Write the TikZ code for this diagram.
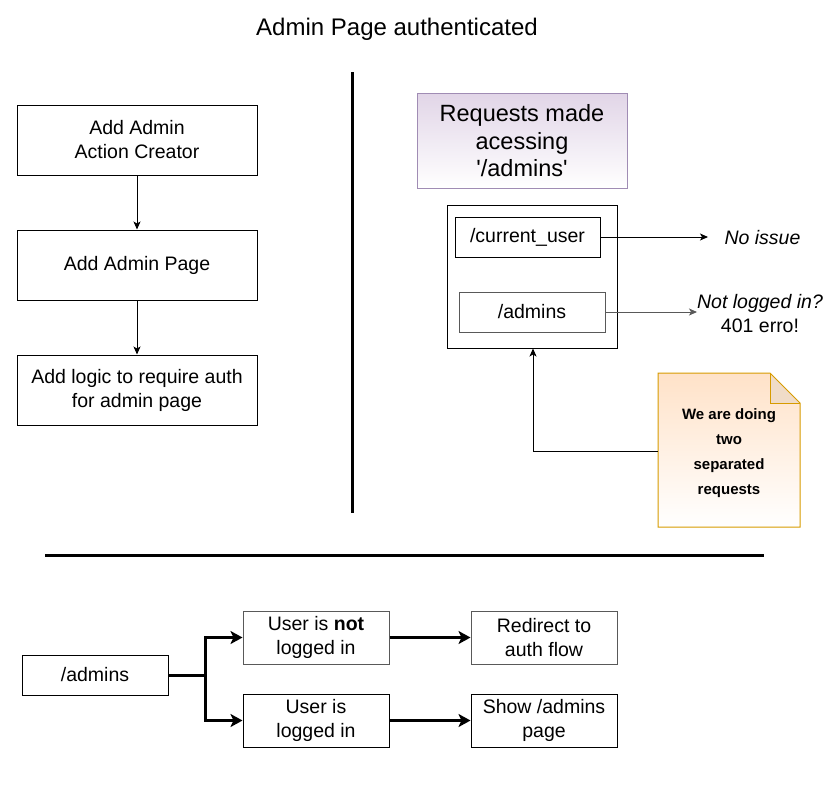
\documentclass[tikz,border=0pt]{standalone}
\usepackage{fontspec}
\setmainfont{Liberation Sans}[Ligatures=TeXOff]
\usetikzlibrary{arrows.meta}
\definecolor{purplefill}{RGB}{225,213,231}
\definecolor{purpleline}{RGB}{160,140,180}
\definecolor{notefill}{RGB}{255,226,200}
\definecolor{notefold}{RGB}{240,220,200}
\definecolor{noteline}{RGB}{215,155,0}
\begin{document}
\begin{tikzpicture}[x=1pt,y=-1pt,
  box/.style={draw=black, line width=1pt, fill=white, align=center, inner sep=0pt,
    font=\fontsize{19.5}{24}\selectfont},
  graybox/.style={box, draw=black!65},
  thin arrow/.style={draw=black, line width=1pt, -{Stealth[length=8pt,width=7pt,inset=2pt]}},
  thick arrow/.style={draw=black, line width=3pt, -{Stealth[length=12pt,width=13pt,inset=3pt]}},
  sep/.style={draw=black, line width=3pt}
]
\useasboundingbox (0,0) rectangle (826,795);
\node[font=\fontsize{24}{28}\selectfont] (title) at (397,29) {Admin Page authenticated};

% left column
\node[box, minimum width=240pt, minimum height=70pt] (b1) at (137,140) {Add Admin\\Action Creator};
\node[box, minimum width=240pt, minimum height=70pt] (b2) at (137,265) {Add Admin Page};
\node[box, minimum width=240pt, minimum height=70pt] (b3) at (137,390) {Add logic to require auth\\for admin page};
\draw[thin arrow] (b1) -- (b2);
\draw[thin arrow] (b2) -- (b3);

% separators
\coordinate (v1) at (352,72);
\coordinate (v2) at (352,513);
\draw[sep] (v1) -- (v2);
\coordinate (h1) at (45,555);
\coordinate (h2) at (764,555);
\draw[sep] (h1) -- (h2);

% requests header
\shade[top color=purplefill, bottom color=white] (417,93) rectangle (627,188);
\node[draw=purpleline, line width=1pt, minimum width=210pt, minimum height=95pt,
  align=center, inner sep=0pt, font=\fontsize{23.5}{27.5}\selectfont] (req) at (522,141) {Requests made\\acessing\\'/admins'};

% outer box with requests
\node[draw=black, line width=1pt, minimum width=170pt, minimum height=143pt, inner sep=0pt] (outer) at (532,276.5) {};
\node[box, minimum width=145pt, minimum height=40pt] (cu) at (527.5,237) {/current\_user};
\node[graybox, minimum width=146pt, minimum height=40pt] (ad) at (532,312) {/admins};

\node[font=\fontsize{19.5}{24}\selectfont\itshape, anchor=west] (noissue) at (721,238) {No issue};
\node[font=\fontsize{19.5}{24}\selectfont, align=center] (notlogged) at (760,314) {\itshape Not logged in?\\401 erro!};
\coordinate (ni) at (708,237);
\coordinate (nl) at (697,312);
\draw[thin arrow] (cu.east) -- (ni);
\draw[thin arrow, draw=black!65] (ad.east) -- (nl);

% note
\shade[top color=notefill, bottom color=white]
  (658,373) -- (770,373) -- (800,403) -- (800,527) -- (658,527) -- cycle;
\fill[notefold] (770,373) -- (800,403) -- (770,403) -- cycle;
\draw[noteline, line width=1pt]
  (658,373) -- (770,373) -- (800,403) -- (800,527) -- (658,527) -- cycle;
\draw[noteline, line width=1pt] (770,373) -- (770,403) -- (800,403);
\node[align=center, font=\fontsize{15}{25}\selectfont\bfseries, inner sep=0pt] (note) at (729,453)
  {We are doing\\two\\separated\\requests};
\coordinate (nt) at (658,451);
\coordinate (corner) at (533,451);
\coordinate (outbot) at (533,348.5);
\draw[thin arrow] (nt) -- (corner) -- (outbot);

% bottom flow
\node[box, minimum width=146pt, minimum height=40pt] (adm) at (95,675) {/admins};
\node[graybox, minimum width=146pt, minimum height=53pt] (notin) at (316,637.5) {User is \textbf{not}\\logged in};
\node[box, minimum width=146pt, minimum height=53pt] (isin) at (316,720.5) {User is\\logged in};
\node[graybox, minimum width=146pt, minimum height=53pt] (redir) at (544,637.5) {Redirect to\\auth flow};
\node[box, minimum width=146pt, minimum height=53pt] (show) at (544,720.5) {Show /admins\\page};
\coordinate (split) at (205,675);
\draw[thick arrow] (adm.east) -- (split) |- (notin.west);
\draw[thick arrow] (split) |- (isin.west);
\draw[thick arrow] (notin) -- (redir);
\draw[thick arrow] (isin) -- (show);
\end{tikzpicture}
\end{document}
